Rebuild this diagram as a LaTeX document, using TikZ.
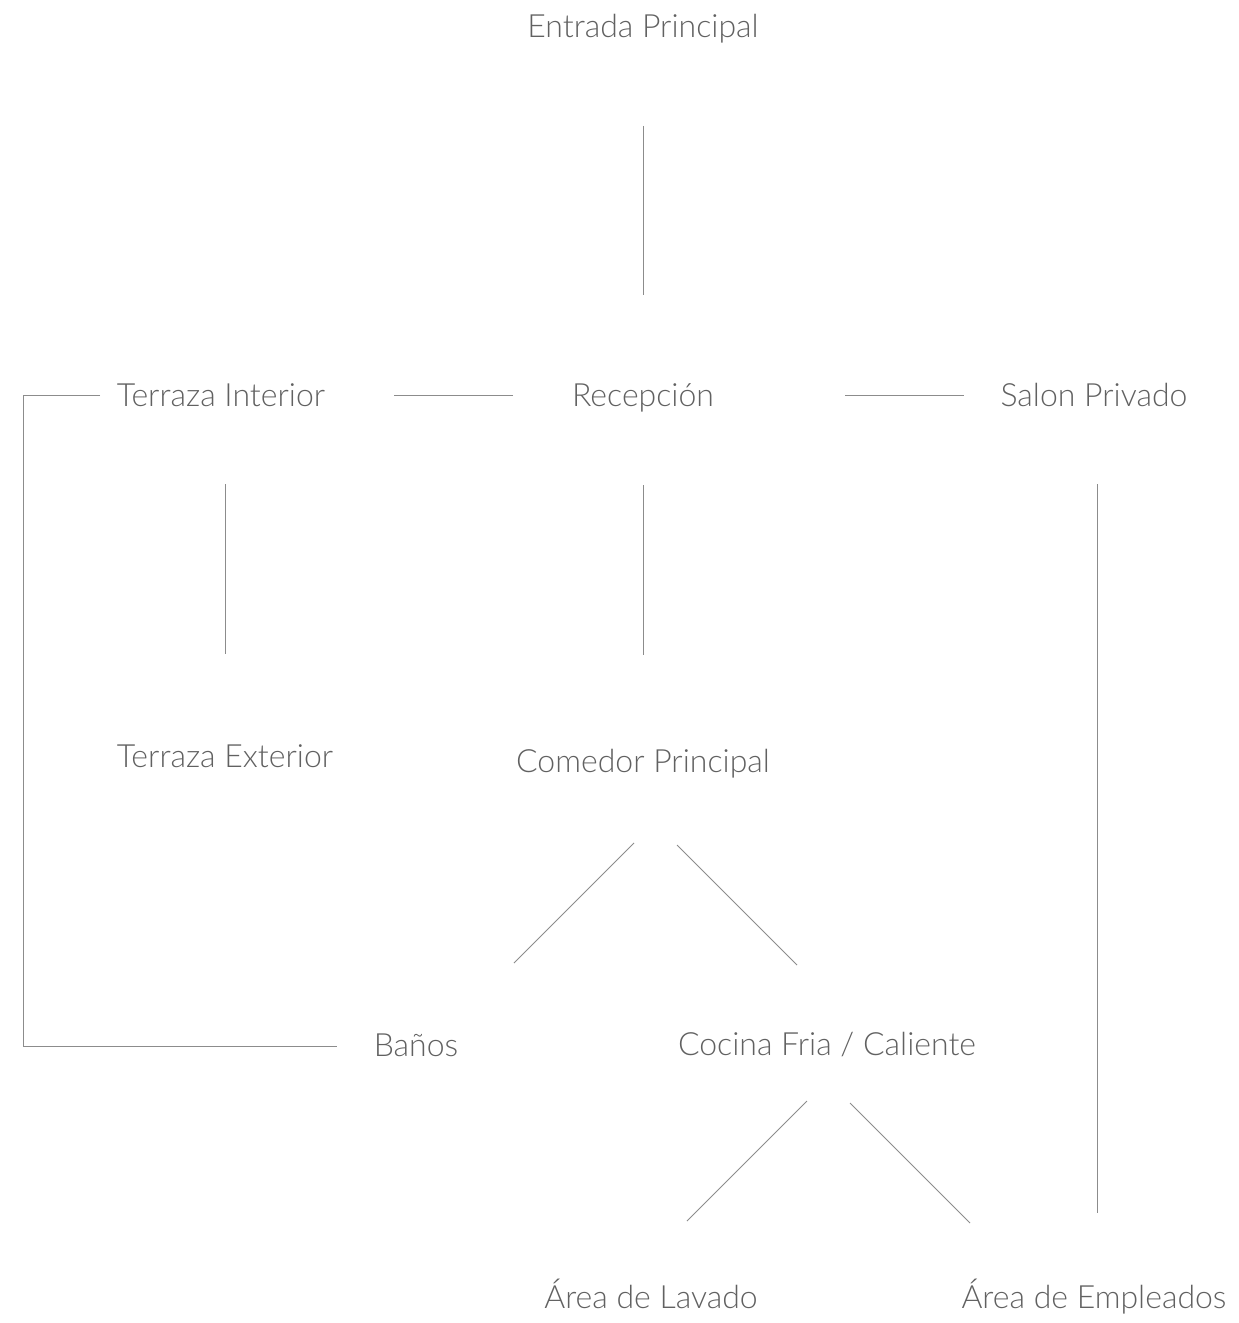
\documentclass[tikz,border=0pt]{standalone}
\usepackage{fontspec}
\setmainfont{Lato Light}
\usetikzlibrary{calc}

\begin{document}
\begin{tikzpicture}[
  x=0.75pt, y=-0.75pt,
  room/.style={text=black!62, font=\fontsize{24}{28}\selectfont, inner sep=0pt,
    text height=17.25pt, text depth=0pt},
  link/.style={draw=black!45, line width=0.75pt},
]

% --- Rahmen (Seitengroesse wie Vorlage) ---
\useasboundingbox (0,0) rectangle (1238,1323);

% --- Raeume ---
\node[room] (entrada)   at (643,26)   {Entrada Principal};
\node[room] (tinterior) at (221,395)  {Terraza Interior};
\node[room] (recepcion) at (643,395)  {Recepción};
\node[room] (salon)     at (1094,395) {Salon Privado};
\node[room] (texterior) at (225,756)  {Terraza Exterior};
\node[room] (comedor)   at (643,761)  {Comedor Principal};
\node[room] (banos)     at (416,1045) {Baños};
\node[room] (cocina)    at (827,1044) {Cocina Fria / Caliente};
\node[room] (lavado)    at (651,1297) {Área de Lavado};
\node[room] (empleados) at (1094,1297) {Área de Empleados};

% --- Verbindungen, senkrecht und waagrecht ---
\draw[link, shorten <=75pt, shorten >=75pt] (entrada.center) -- (recepcion.center);
\draw[link, shorten <=97.5pt, shorten >=129.75pt] (recepcion.center) -- (tinterior.center);
\draw[link, shorten <=151.5pt, shorten >=97.5pt] (recepcion.center) -- (salon.center);
\draw[link, shorten <=66.75pt, shorten >=76.5pt] (texterior.center |- tinterior.center) -- (texterior.center);
\draw[link, shorten <=67.5pt, shorten >=79.5pt] (recepcion.center) -- (comedor.center);
\draw[link, shorten <=66.75pt, shorten >=63pt] ($(salon.center)+(3,0)$) -- ($(empleados.center)+(3,0)$);

% --- Verbindungen, schraeg ---
\draw[link] ($(comedor.center)+(-9,82)$) -- ++(-120,120);
\draw[link] ($(comedor.center)+(34,84)$) -- ++(120,120);
\draw[link] ($(cocina.center)+(-20,57)$) -- ++(-120,120);
\draw[link] ($(cocina.center)+(23,59)$) -- ++(120,120);

% --- Umweg links: Terraza Interior nach Banos ---
\draw[link] ($(tinterior.center)+(-121,0)$) -- ++(-77,0) |- ($(banos.center)+(-79,1)$);

\end{tikzpicture}
\end{document}
